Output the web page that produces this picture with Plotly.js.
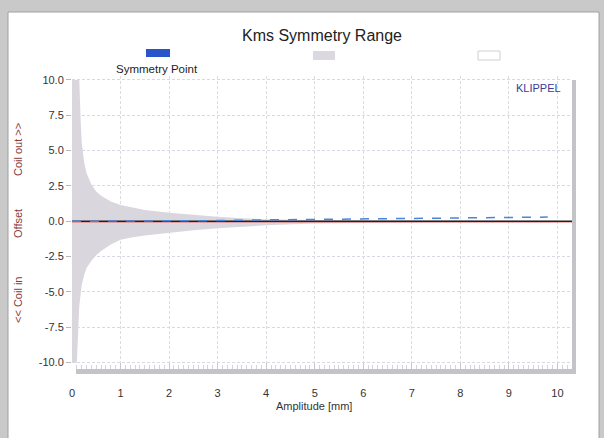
<!DOCTYPE html>
<html>
<head>
<meta charset="utf-8">
<script src="https://cdn.plot.ly/plotly-3.0.1.min.js"></script>
<style>
html,body{margin:0;padding:0;background:#c9c9c9;}
#chart{width:604px;height:438px;}
</style>
</head>
<body>
<div id="chart"></div>
<script>
// Symmetry range envelope (gray band)
const envX     = [0.0, 0.05, 0.1, 0.15, 0.18, 0.2, 0.25, 0.3, 0.4, 0.5, 0.6, 0.8, 1.0, 1.25, 1.5, 2.0, 2.5, 3.0, 3.5, 4.0, 5.0, 6.0, 7.0, 8.0, 9.0, 10.0];
const envUpper = [10, 10, 10, 10, 7.0, 5.6, 4.2, 3.4, 2.6, 2.1, 1.8, 1.4, 1.15, 0.95, 0.8, 0.6, 0.45, 0.32, 0.22, 0.14, 0.09, 0.07, 0.05, 0.04, 0.04, 0.04];
const envLower = [-10, -10, -10, -6.0, -5.0, -4.5, -3.8, -3.3, -2.8, -2.4, -2.1, -1.65, -1.3, -1.12, -1.0, -0.8, -0.64, -0.5, -0.38, -0.28, -0.16, -0.1, -0.08, -0.07, -0.06, -0.06];

// Symmetry point (blue dashed)
const symX = [0, 1, 2, 3, 4, 5, 6, 7, 8, 9, 9.8];
const symY = [0, 0.0, 0.02, 0.05, 0.1, 0.13, 0.17, 0.2, 0.24, 0.28, 0.3];

// Reference lines
const zeroX = [0, 10.3];
const zeroY = [0, 0];
const redX  = [0, 10.3];
const redY  = [-0.08, -0.08];

const xTicks = [0,1,2,3,4,5,6,7,8,9,10];
const yTicks = [-10,-7.5,-5,-2.5,0,2.5,5,7.5,10];
const yTickText = ["-10.0","-7.5","-5.0","-2.5","0.0","2.5","5.0","7.5","10.0"];

const traces = [
  {x: envX, y: envLower, mode:'lines', line:{width:0, color:'#d9d5dd'}, hoverinfo:'skip', showlegend:false},
  {x: envX, y: envUpper, mode:'lines', fill:'tonexty', fillcolor:'#dad6de', line:{width:0, color:'#d9d5dd'}, hoverinfo:'skip', showlegend:false},
  {x: redX, y: redY, mode:'lines', line:{width:0.8, color:'rgba(220,90,90,0.6)'}, showlegend:false},
  {x: zeroX, y: zeroY, mode:'lines', line:{width:1.6, color:'#222222'}, showlegend:false},
  {x: symX, y: symY, mode:'lines', line:{width:1.5, color:'#4a86d8', dash:'dash'}, showlegend:false}
];

// plot area: left 72, right 572, top 76, bottom 369
const L=72, R=572, T=76, B=369, W=500, H=293;
const px = v => (v - L)/W;
const py = v => (B - v)/H;

const shapes = [
  {type:'rect', xref:'paper', yref:'paper', x0:px(8), x1:px(599), y0:py(440), y1:py(12), fillcolor:'#ffffff', line:{width:1, color:'#a0a0a0'}, layer:'below'},
  {type:'rect', xref:'paper', yref:'paper', x0:px(76), x1:px(576), y0:py(374), y1:py(369), fillcolor:'#c4c4c8', line:{width:0}},
  {type:'rect', xref:'paper', yref:'paper', x0:px(572), x1:px(576), y0:py(374), y1:py(80), fillcolor:'#c4c4c8', line:{width:0}},
  {type:'rect', xref:'paper', yref:'paper', x0:px(146), x1:px(170), y0:py(57), y1:py(49), fillcolor:'#2a55c8', line:{width:0}},
  {type:'rect', xref:'paper', yref:'paper', x0:px(313), x1:px(335), y0:py(60), y1:py(51), fillcolor:'#dcd8e0', line:{width:0}},
  {type:'rect', xref:'paper', yref:'paper', x0:px(478), x1:px(500), y0:py(60), y1:py(51), fillcolor:'#ffffff', line:{width:1, color:'#d0d0d0'}}
];

const ff = 'Liberation Sans, Arial, sans-serif';
function ann(x, y, text, size, color, angle) {
  const a = {xref:'paper', yref:'paper', x:px(x), y:py(y), text:text, showarrow:false,
    xanchor:'center', yanchor:'middle', font:{family:ff, size:size, color:color}};
  if (angle !== undefined) a.textangle = angle;
  return a;
}
const annotations = [
  ann(157, 69, 'Symmetry Point', 11.5, '#222'),
  ann(538, 88, 'KLIPPEL', 11, '#3a3a9a'),
  ann(314, 406, 'Amplitude [mm]', 11, '#333'),
  ann(18, 150, 'Coil out &gt;&gt;', 11, '#8a3a3a', -90),
  ann(18, 224, 'Offset', 11, '#8a3a3a', -90),
  ann(18, 300, '&lt;&lt; Coil in', 11, '#8a3a3a', -90)
];

const layout = {
  width:604, height:438,
  margin:{l:L, r:604-R, t:T, b:438-B, pad:0},
  paper_bgcolor:'#c9c9c9',
  plot_bgcolor:'#ffffff',
  title:{text:'Kms Symmetry Range', x:0.5, xref:'paper', xanchor:'center', y:1-35/438, yanchor:'middle', font:{family:ff, size:16, color:'#222'}},
  showlegend:false,
  xaxis:{
    range:[0, 10.3], tickvals:xTicks, ticktext:xTicks.map(String),
    showgrid:true, gridcolor:'#dcdcdc', griddash:'3px,2px', gridwidth:1,
    zeroline:false, showline:false,
    ticks:'inside', ticklen:6, tickcolor:'#c8c8c8',
    minor:{ticks:'inside', ticklen:4, dtick:0.1, tickcolor:'#d4d4d4', showgrid:false},
    ticklabelstandoff:16,
    tickfont:{family:ff, size:11, color:'#333'}
  },
  yaxis:{
    range:[-10.45, 10.28], tickvals:yTicks, ticktext:yTickText,
    showgrid:true, gridcolor:'#d8d8e6', griddash:'3px,2px', gridwidth:1,
    zeroline:false, showline:false,
    ticks:'outside', ticklen:5, tickcolor:'#b8b8b8',
    tickfont:{family:ff, size:11, color:'#333'}
  },
  shapes:shapes,
  annotations:annotations
};

Plotly.newPlot('chart', traces, layout, {displayModeBar:false, staticPlot:true});
</script>
</body>
</html>
